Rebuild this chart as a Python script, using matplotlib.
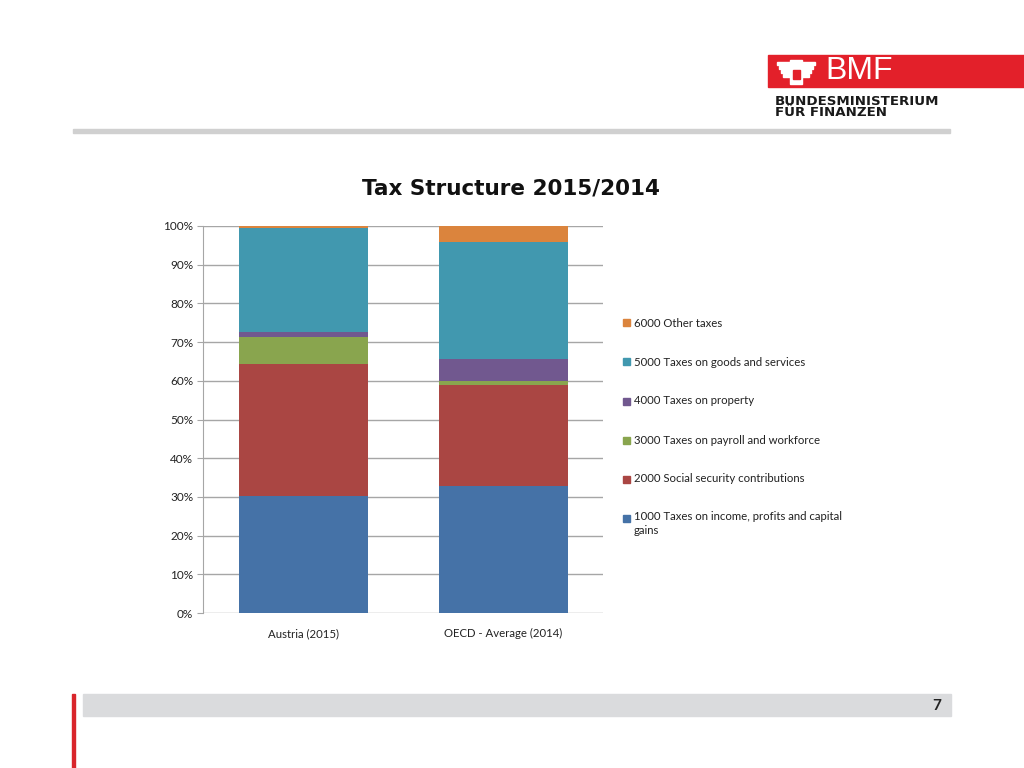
import matplotlib
matplotlib.use("Agg")
import matplotlib.pyplot as plt
from matplotlib.patches import Rectangle, Polygon
from matplotlib.ticker import PercentFormatter, MultipleLocator

plt.rcParams['font.family'] = ['Lato', 'DejaVu Sans']

categories = ["Austria (2015)", "OECD - Average (2014)"]
series_names = ["1000 Taxes on income, profits and capital\ngains",
                "2000 Social security contributions",
                "3000 Taxes on payroll and workforce",
                "4000 Taxes on property",
                "5000 Taxes on goods and services",
                "6000 Other taxes"]
values = {
    "1000": [30.2, 32.8],
    "2000": [34.1, 26.1],
    "3000": [6.9, 1.1],
    "4000": [1.3, 5.6],
    "5000": [27.1, 30.3],
    "6000": [0.4, 4.1],
}
colors = ["#4572A7", "#AA4643", "#89A54E", "#71588F", "#4198AF", "#DB843D"]

W, H = 1024, 768
fig = plt.figure(figsize=(W/100, H/100), dpi=100)

def fx(x): return x / W
def fy(y): return 1 - y / H
def fw(w): return w / W
def fh(h): return h / H

# header
fig.patches.append(Rectangle((fx(768), fy(87)), fw(256), fh(32),
                             transform=fig.transFigure, color="#E3202A", zorder=1))
fig.text(fx(825), fy(71), "BMF", color="white", fontsize=23, ha="left", va="center",
         family=["Liberation Sans"], zorder=3)
# simple eagle emblem (wings + body)
for side in (-1, 1):
    cx = 796
    for k, yy in enumerate([62, 66, 70, 74]):
        x0 = cx + side * 5
        x1 = cx + side * (19 - k * 2)
        fig.patches.append(Polygon([(fx(x0), fy(yy)), (fx(x1), fy(yy)),
                                    (fx(x1), fy(yy + 2.5)), (fx(x0), fy(yy + 2.5))],
                                   closed=True, transform=fig.transFigure,
                                   color="white", zorder=2))
fig.patches.append(Rectangle((fx(790), fy(84)), fw(12), fh(24),
                             transform=fig.transFigure, color="white", zorder=2))
fig.patches.append(Rectangle((fx(792.5), fy(79)), fw(7), fh(9),
                             transform=fig.transFigure, color="#E3202A", zorder=3))
fig.text(fx(775), fy(105), "BUNDESMINISTERIUM", color="#1a1a1a", fontsize=9.6,
         fontweight="bold", ha="left", va="baseline", family=["DejaVu Sans"])
fig.text(fx(775), fy(116), "FÜR FINANZEN", color="#1a1a1a", fontsize=9.6,
         fontweight="bold", ha="left", va="baseline", family=["DejaVu Sans"])
fig.patches.append(Rectangle((fx(73), fy(133)), fw(877), fh(4),
                             transform=fig.transFigure, color="#D0D0D0", zorder=1))

# footer
fig.patches.append(Rectangle((fx(83), fy(716)), fw(868), fh(22),
                             transform=fig.transFigure, color="#DADBDD", zorder=1))
fig.patches.append(Rectangle((fx(72), fy(768)), fw(3), fh(74),
                             transform=fig.transFigure, color="#D9252B", zorder=1))
fig.text(fx(941), fy(706), "7", fontsize=11, fontweight="bold", ha="right", va="center",
         color="#222222")

# chart
ax = fig.add_axes([fx(203), fy(613), fw(400), fh(387)])
x = [0, 1]
bottom = [0.0, 0.0]
for key, c in zip(values, colors):
    v = values[key]
    ax.bar(x, v, bottom=bottom, width=0.645, color=c, zorder=3)
    bottom = [b + vv for b, vv in zip(bottom, v)]

ax.set_xlim(-0.5, 1.5)
ax.set_ylim(0, 100)
ax.yaxis.set_major_locator(MultipleLocator(10))
ax.yaxis.set_major_formatter(PercentFormatter(decimals=0))
ax.grid(axis="y", color="#A6A6A6", lw=1, zorder=0)
ax.set_xticks(x)
ax.set_xticklabels(categories)
for s in ["top", "right", "bottom"]:
    ax.spines[s].set_visible(False)
ax.spines["left"].set_color("#A6A6A6")
ax.tick_params(axis="y", length=4, color="#A6A6A6", labelsize=8.5, pad=3, labelcolor="#222222")
ax.tick_params(axis="x", length=0, labelsize=8.2, pad=11, labelcolor="#222222")

fig.text(fx(511), fy(189), "Tax Structure 2015/2014", fontsize=15.5, fontweight="bold",
         ha="center", va="center", color="#111111", family=["DejaVu Sans"])

# legend (top to bottom: reversed order)
leg_y = [323, 362, 401, 440, 479, 518]
for name, c, yy in zip(series_names[::-1], colors[::-1], leg_y):
    fig.patches.append(Rectangle((fx(623), fy(yy + 3.5)), fw(7), fh(7),
                                 transform=fig.transFigure, color=c))
    if "\n" in name:
        fig.text(fx(634), fy(yy - 7), name, fontsize=8.2, ha="left", va="top",
                 color="#222222", linespacing=1.35)
    else:
        fig.text(fx(634), fy(yy), name, fontsize=8.2, ha="left", va="center",
                 color="#222222")

fig.savefig("out.png", dpi=100)
